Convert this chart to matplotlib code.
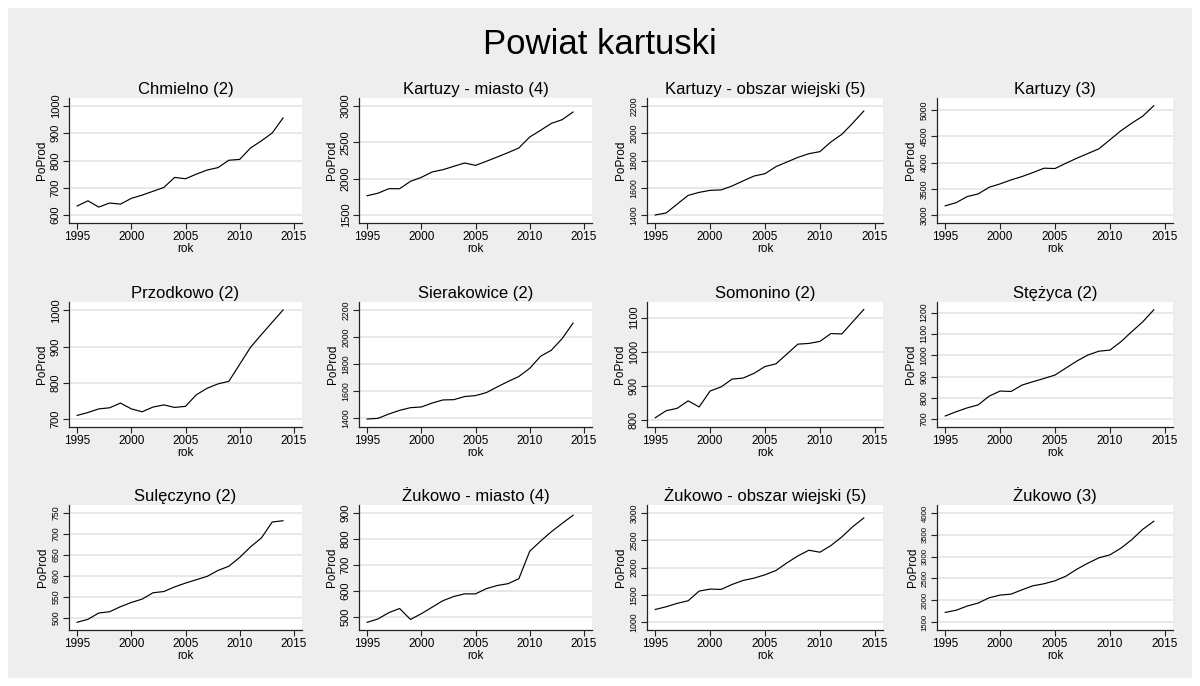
import numpy as np
import matplotlib.pyplot as plt
from matplotlib.patches import Rectangle

# ------------------------------------------------------------
# PoProd by gmina, powiat kartuski, 1995-2014
# ------------------------------------------------------------
years = list(range(1995, 2015))

titles = [
    "Chmielno (2)", "Kartuzy - miasto (4)", "Kartuzy - obszar wiejski (5)", "Kartuzy (3)",
    "Przodkowo (2)", "Sierakowice (2)", "Somonino (2)", "Stężyca (2)",
    "Sulęczyno (2)", "Żukowo - miasto (4)", "Żukowo - obszar wiejski (5)", "Żukowo (3)",
]

chmielno = [633, 652, 629, 644, 640, 661, 673, 687, 701, 738, 733, 750, 765, 774, 801, 804, 846, 872, 901, 956]
kartuzy_m = [1765, 1800, 1862, 1862, 1963, 2018, 2092, 2124, 2170, 2216, 2183, 2239, 2298, 2358, 2422, 2573, 2665, 2761, 2812, 2917]
kartuzy_ow = [1400, 1415, 1480, 1544, 1566, 1581, 1584, 1613, 1650, 1686, 1703, 1755, 1789, 1823, 1850, 1865, 1936, 1992, 2075, 2163]
kartuzy = [3180, 3240, 3356, 3406, 3533, 3597, 3673, 3737, 3813, 3895, 3889, 3990, 4086, 4175, 4263, 4435, 4606, 4752, 4886, 5083]
przodkowo = [710, 718, 728, 731, 744, 728, 720, 733, 739, 732, 735, 767, 785, 797, 804, 851, 898, 933, 967, 1001]
sierakowice = [1395, 1400, 1432, 1459, 1479, 1484, 1513, 1536, 1538, 1561, 1568, 1590, 1632, 1672, 1709, 1769, 1858, 1903, 1989, 2103]
somonino = [805, 826, 833, 855, 837, 884, 896, 919, 922, 936, 956, 964, 993, 1022, 1024, 1030, 1053, 1052, 1088, 1124]
stezyca = [715, 735, 753, 767, 808, 832, 830, 860, 876, 891, 907, 940, 973, 1001, 1019, 1024, 1063, 1111, 1157, 1213]
suleczyno = [490, 497, 512, 515, 527, 537, 545, 560, 563, 574, 583, 591, 599, 613, 623, 644, 669, 690, 728, 731]
zukowo_m = [480, 493, 517, 533, 491, 513, 538, 563, 579, 589, 589, 609, 621, 628, 647, 752, 791, 827, 859, 890]
zukowo_ow = [1230, 1280, 1342, 1390, 1567, 1604, 1598, 1689, 1762, 1805, 1866, 1945, 2085, 2213, 2317, 2280, 2402, 2561, 2750, 2909]
zukowo = [1720, 1770, 1866, 1934, 2056, 2117, 2140, 2239, 2331, 2377, 2445, 2552, 2712, 2850, 2972, 3040, 3192, 3390, 3627, 3810]

series = [chmielno, kartuzy_m, kartuzy_ow, kartuzy,
          przodkowo, sierakowice, somonino, stezyca,
          suleczyno, zukowo_m, zukowo_ow, zukowo]

yticks = [
    [600, 700, 800, 900, 1000], [1500, 2000, 2500, 3000],
    [1400, 1600, 1800, 2000, 2200], [3000, 3500, 4000, 4500, 5000],
    [700, 800, 900, 1000], [1400, 1600, 1800, 2000, 2200],
    [800, 900, 1000, 1100], [700, 800, 900, 1000, 1100, 1200],
    [500, 550, 600, 650, 700, 750], [500, 600, 700, 800, 900],
    [1000, 1500, 2000, 2500, 3000], [1500, 2000, 2500, 3000, 3500, 4000],
]
xticks = [1995, 2000, 2005, 2010, 2015]

# y tick label sizes differ from panel to panel in the original
ytick_size = [8, 8, 6.3, 6.3, 8, 6.3, 7.8, 6.3, 6.3, 8, 6.3, 5.6]

# -----------------------------
# Layout (pixels on 1200 x 686)
# -----------------------------
W, H = 1200, 686
col_left = [69, 359, 647, 937]
col_width = [233, 233, 236, 236]
row_top = [98, 302, 505]
row_h = 125

bg = "#eeeeee"
grid_c = "#e4e4e4"

plt.rcParams.update({
    "font.family": ["Liberation Sans", "DejaVu Sans"],
    "axes.linewidth": 0.9,
})

fig = plt.figure(figsize=(W / 100, H / 100), dpi=100, facecolor="white")
fig.patches.append(Rectangle((8 / W, 8 / H), 1 - 16 / W, 1 - 16 / H,
                             transform=fig.transFigure, facecolor=bg,
                             edgecolor="none", zorder=-10))

fig.text(0.5, 1 - 45 / H, "Powiat kartuski", ha="center", va="center", fontsize=25)

for i, (vals, title, ticks) in enumerate(zip(series, titles, yticks)):
    r, c = divmod(i, 4)
    left = col_left[c] / W
    bottom = 1 - (row_top[r] + row_h) / H
    ax = fig.add_axes([left, bottom, col_width[c] / W, row_h / H])
    ax.set_facecolor("white")

    ax.plot(years, vals, color="black", linewidth=0.85)

    lo = min(ticks[0], min(vals))
    hi = max(ticks[-1], max(vals))
    pad = 8 / 109 * (ticks[-1] - ticks[0])
    ax.set_ylim(lo - pad, hi + pad)
    ax.set_xlim(1995 - 0.75, 2015 + 0.75)

    ax.set_yticks(ticks)
    ax.set_yticklabels([str(t) for t in ticks], rotation=90, va="center",
                       fontsize=ytick_size[i])
    ax.set_xticks(xticks)
    ax.set_xticklabels([str(t) for t in xticks], fontsize=8.5)
    ax.tick_params(axis="both", length=4, width=0.8, color="#222222", pad=2)

    ax.grid(axis="y", color=grid_c, linewidth=1.2)
    ax.set_axisbelow(True)
    for s in ("top", "right"):
        ax.spines[s].set_visible(False)
    for s in ("left", "bottom"):
        ax.spines[s].set_color("#222222")

    ax.set_title(title, fontsize=12, pad=3)
    ax.set_xlabel("rok", fontsize=8.5, labelpad=0)
    ax.set_ylabel("PoProd", fontsize=8.5, labelpad=2)

fig.savefig("out.png", dpi=100, facecolor=fig.get_facecolor())
